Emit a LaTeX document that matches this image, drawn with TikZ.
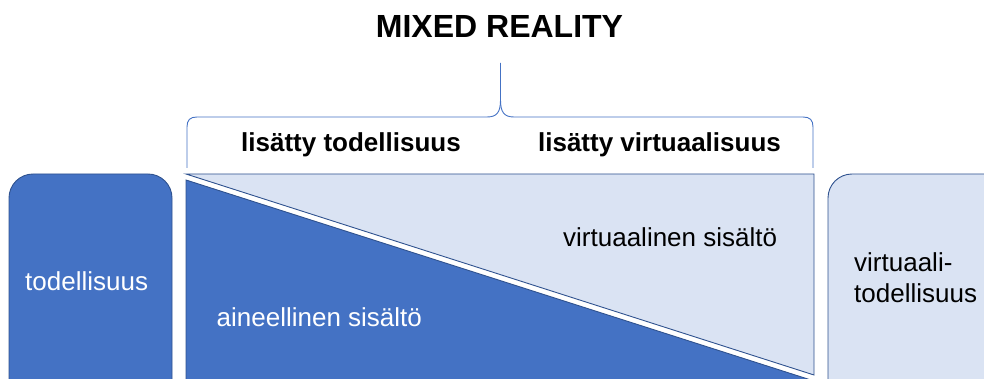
\documentclass[tikz,border=0pt]{standalone}
\usepackage{fontspec}
\setmainfont{Liberation Sans}
\definecolor{dkblue}{HTML}{4472C4}
\definecolor{edgeblue}{HTML}{2F528F}
\definecolor{ltblue}{HTML}{DAE3F3}
\begin{document}
\begin{tikzpicture}[x=1pt,y=-1pt,
  lbl/.style={inner sep=0pt, font=\fontsize{26}{31}\selectfont},
  hdr/.style={inner sep=0pt, font=\fontsize{26}{31}\selectfont\bfseries},
  ttl/.style={inner sep=0pt, font=\fontsize{32}{38}\selectfont\bfseries},
  boxdark/.style={draw=edgeblue, fill=dkblue, line width=0.9pt},
  boxlight/.style={draw=edgeblue, fill=ltblue, line width=0.9pt},
  bracestyle/.style={draw=dkblue, line width=0.9pt}]
\useasboundingbox (0,0) rectangle (984,379);
\clip (0,0) rectangle (984,379);
% side boxes
\draw[boxdark, rounded corners=24pt] (9,174) rectangle (172,430);
\draw[boxlight, rounded corners=24pt] (828,174) rectangle (1010,430);
% triangles
\draw[boxlight] (186,174) -- (814,174) -- (814,375) -- cycle;
\draw[boxdark] (186,180) -- (814,381) -- (186,381) -- cycle;
% brace
\coordinate (tip) at (500.5,63);
\draw[bracestyle] (187,168) -- (187,127) .. controls (187,120) and (190,117) .. (197,117)
  -- (487,117) .. controls (497,117) and (500.5,112) .. (500.5,100) -- (tip);
\draw[bracestyle] (813,168) -- (813,127) .. controls (813,120) and (810,117) .. (803,117)
  -- (514,117) .. controls (504,117) and (500.5,112) .. (500.5,100);
% texts
\node[ttl, anchor=base] (mr) at (499.5,38) {MIXED REALITY};
\node[hdr, anchor=base] (lt) at (351,152) {lisätty todellisuus};
\node[hdr, anchor=base] (lv) at (659.5,152) {lisätty virtuaalisuus};
\node[lbl, white, anchor=base west] (real) at (25,290) {todellisuus};
\node[lbl, white, anchor=base west] (ain) at (216.5,326.5) {aineellinen sisältö};
\node[lbl, anchor=base west] (virt) at (563,247) {virtuaalinen sisältö};
\node[lbl, anchor=base west] (vr1) at (854,271.5) {virtuaali-};
\node[lbl, anchor=base west] (vr2) at (854,302.5) {todellisuus};
\end{tikzpicture}
\end{document}
